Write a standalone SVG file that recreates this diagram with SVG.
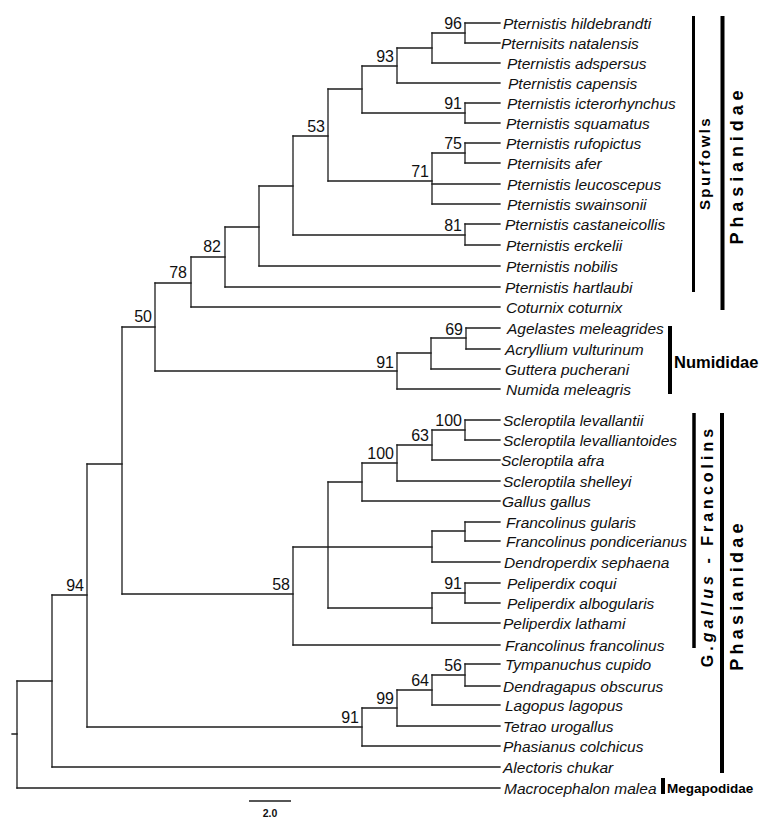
<svg xmlns="http://www.w3.org/2000/svg" width="776" height="835" viewBox="0 0 776 835">
<style>
.br{fill:none;stroke:#1e1e1e;stroke-width:1.3;stroke-linecap:square}
.leaf{font-family:"Liberation Sans",Arial,sans-serif;font-style:italic;font-size:15.5px;fill:#111}
.sup{font-family:"Liberation Sans",Arial,sans-serif;font-size:16px;fill:#111;text-anchor:end}
.bar{stroke:#000;fill:none}
.grp{font-family:"Liberation Sans",Arial,sans-serif;font-weight:bold;fill:#000}
</style>
<rect width="776" height="835" fill="#fff"/>
<g id="connectors" class="br">
<path d="M465 23V43M432 33V63M397 48V83M465 103V123M362 66V113M465 143V163M432 153V204M328 89V181M465 224V245M293 136V235M259 186V266M225 227V287M191 257V307M466 328V349M431 338V369M397 353V389M155 283V371M465 420V440M432 430V460M397 445V481M362 463V501M465 522V541M432 531V562M465 583V603M432 593V623M328 482V608M293 547V645M122 327V594M465 664V686M432 675V705M397 690V726M362 708V746M87 464V727M52 595V767M17 681V788"/>
<path d="M432 33H465M397 48H432M362 66H397M362 113H465M328 89H362M432 153H465M328 181H432M293 136H328M293 235H465M259 186H293M225 227H259M191 257H225M155 283H191M431 338H466M397 353H431M155 371H397M122 327H155M432 430H465M397 445H432M362 463H397M328 482H362M432 531H465M293 547H432M432 593H465M328 608H432M122 594H293M87 464H122M432 675H465M397 690H432M362 708H397M87 727H362M52 595H87M17 681H52M12 734H17"/>
<path d="M465 23H500M465 43H500M432 63H500M397 83H500M465 103H500M465 123H500M465 143H500M465 163H500M432 184H500M432 204H500M465 224H500M465 245H500M259 266H500M225 287H500M191 307H500M466 328H500M466 349H500M431 369H500M397 389H500M465 420H500M465 440H500M432 460H500M397 481H500M362 501H500M465 522H500M465 541H500M432 562H500M465 583H500M465 603H500M432 623H500M293 645H500M465 664H500M465 686H500M432 705H500M397 726H500M362 746H500M52 767H500M17 788H500"/>
</g>
<g id="supports" class="sup">
<text x="462" y="29">96</text>
<text x="394" y="62">93</text>
<text x="462" y="109">91</text>
<text x="325" y="132">53</text>
<text x="462" y="149">75</text>
<text x="429" y="177">71</text>
<text x="462" y="231">81</text>
<text x="221" y="252">82</text>
<text x="187" y="278">78</text>
<text x="152" y="322">50</text>
<text x="463" y="335">69</text>
<text x="394" y="368">91</text>
<text x="462" y="426">100</text>
<text x="429" y="441">63</text>
<text x="394" y="459">100</text>
<text x="290" y="590">58</text>
<text x="462" y="589">91</text>
<text x="84" y="591">94</text>
<text x="462" y="671">56</text>
<text x="429" y="686">64</text>
<text x="394" y="704">99</text>
<text x="359" y="723">91</text>
</g>
<g id="leaves" class="leaf">
<g id="t1"><text x="503" y="28.5">Pternistis hildebrandti</text></g>
<g id="t2"><text x="501" y="48.5">Pternisits natalensis</text></g>
<g id="t3"><text x="507" y="68.5">Pternistis adspersus</text></g>
<g id="t4"><text x="508" y="88.5">Pternistis capensis</text></g>
<g id="t5"><text x="507" y="108.5">Pternistis icterorhynchus</text></g>
<g id="t6"><text x="506" y="128.5">Pternistis squamatus</text></g>
<g id="t7"><text x="506" y="148.5">Pternistis rufopictus</text></g>
<g id="t8"><text x="507" y="168.5">Pternisits afer</text></g>
<g id="t9"><text x="507" y="189.5">Pternistis leucoscepus</text></g>
<g id="t10"><text x="507" y="209.5">Pternistis swainsonii</text></g>
<g id="t11"><text x="505" y="229.5">Pternistis castaneicollis</text></g>
<g id="t12"><text x="506" y="250.5">Pternistis erckelii</text></g>
<g id="t13"><text x="506" y="271.5">Pternistis nobilis</text></g>
<g id="t14"><text x="505" y="292.5">Pternistis hartlaubi</text></g>
<g id="t15"><text x="506" y="312.5">Coturnix coturnix</text></g>
<g id="t16"><text x="507" y="333.5">Agelastes meleagrides</text></g>
<g id="t17"><text x="505" y="354.5">Acryllium vulturinum</text></g>
<g id="t18"><text x="505" y="374.5">Guttera pucherani</text></g>
<g id="t19"><text x="506" y="394.5">Numida meleagris</text></g>
<g id="t20"><text x="503" y="425.5">Scleroptila levallantii</text></g>
<g id="t21"><text x="503" y="445.5">Scleroptila levalliantoides</text></g>
<g id="t22"><text x="501" y="465.5">Scleroptila afra</text></g>
<g id="t23"><text x="503" y="486.5">Scleroptila shelleyi</text></g>
<g id="t24"><text x="502" y="506.5">Gallus gallus</text></g>
<g id="t25"><text x="506" y="527.5">Francolinus gularis</text></g>
<g id="t26"><text x="506" y="546.5">Francolinus pondicerianus</text></g>
<g id="t27"><text x="504" y="567.5">Dendroperdix sephaena</text></g>
<g id="t28"><text x="507" y="588.5">Peliperdix coqui</text></g>
<g id="t29"><text x="507" y="608.5">Peliperdix albogularis</text></g>
<g id="t30"><text x="503" y="628.5">Peliperdix lathami</text></g>
<g id="t31"><text x="505" y="650.5">Francolinus francolinus</text></g>
<g id="t32"><text x="505" y="669.5">Tympanuchus cupido</text></g>
<g id="t33"><text x="503" y="691.5">Dendragapus obscurus</text></g>
<g id="t34"><text x="505" y="710.5">Lagopus lagopus</text></g>
<g id="t35"><text x="503" y="731.5">Tetrao urogallus</text></g>
<g id="t36"><text x="503" y="751.5">Phasianus colchicus</text></g>
<g id="t37"><text x="503" y="772.5">Alectoris chukar</text></g>
<g id="t38"><text x="504" y="793.5">Macrocephalon malea</text></g>
</g>
<g id="clade-spurfowls">
<line class="bar" x1="693.5" y1="16" x2="693.5" y2="292" stroke-width="3"/>
<text class="grp" transform="translate(710,163) rotate(-90)" text-anchor="middle" font-size="15" letter-spacing="2.4">Spurfowls</text>
</g>
<g id="clade-phasianidae-top">
<line class="bar" x1="722.5" y1="16" x2="722.5" y2="310" stroke-width="4"/>
<text class="grp" transform="translate(743,165) rotate(-90)" text-anchor="middle" font-size="18" letter-spacing="4.9">Phasianidae</text>
</g>
<g id="clade-numididae">
<line class="bar" x1="670" y1="326" x2="670" y2="394" stroke-width="4"/>
<text class="grp" x="674" y="368" font-size="16.5">Numididae</text>
</g>
<g id="clade-gallus-francolins">
<line class="bar" x1="694" y1="413" x2="694" y2="648" stroke-width="3.5"/>
<text class="grp" transform="translate(713,546) rotate(-90)" text-anchor="middle" font-size="16" letter-spacing="4">G.<tspan font-style="italic">gallus</tspan> - Francolins</text>
</g>
<g id="clade-phasianidae-bottom">
<line class="bar" x1="722" y1="413" x2="722" y2="773" stroke-width="4"/>
<text class="grp" transform="translate(743,595) rotate(-90)" text-anchor="middle" font-size="18" letter-spacing="4.2">Phasianidae</text>
</g>
<g id="clade-megapodidae">
<line class="bar" x1="663" y1="778" x2="663" y2="794" stroke-width="4"/>
<text class="grp" x="667" y="793" font-size="13.5">Megapodidae</text>
</g>
<g id="scale">
<line x1="249" y1="801" x2="291" y2="801" stroke="#1e1e1e" stroke-width="1.3"/>
<text x="270" y="817" text-anchor="middle" font-family="Liberation Sans, Arial, sans-serif" font-weight="bold" font-size="10.5" fill="#111">2.0</text>
</g>
</svg>
